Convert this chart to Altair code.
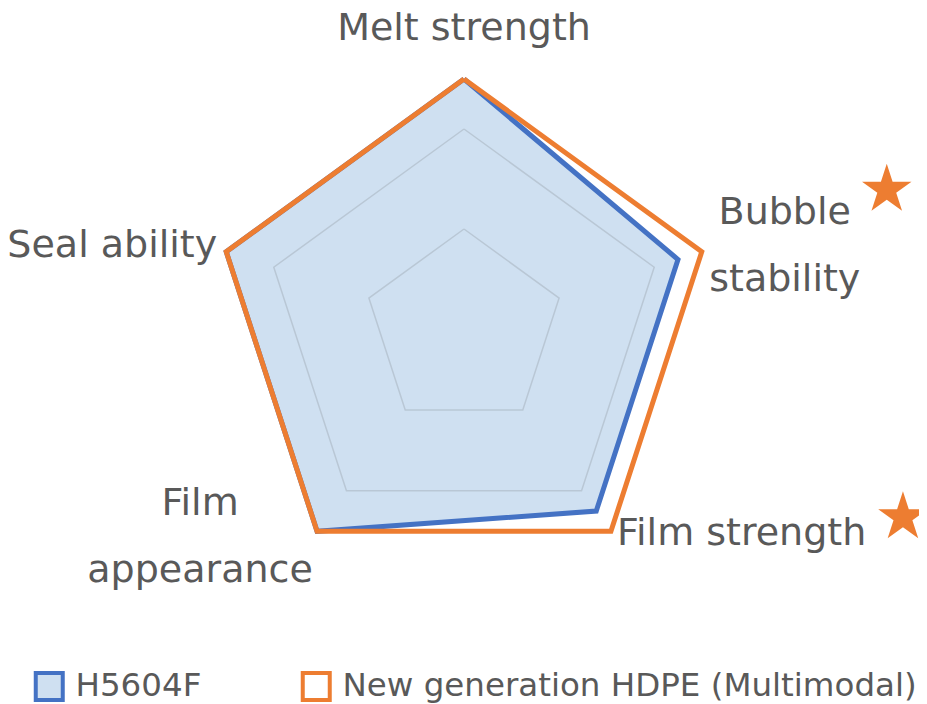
import altair as alt
import pandas as pd

# ---- data ----
categories = ["Melt strength", "Bubble stability", "Film strength", "Film appearance", "Seal ability"]
label_text = ["Melt strength", "Bubble\nstability", "Film strength", "Film\nappearance", "Seal ability"]
series_names = ["H5604F", "New generation HDPE (Multimodal)"]
h5604f_values = [5, 4.5, 4.5, 5, 5]
new_gen_values = [5, 5, 5, 5, 5]
grid_levels = [2, 4]
axis_max = 5
starred = ["Bubble stability", "Film strength"]

FONT = "DejaVu Sans"
TEXT_COLOR = "#595959"
BLUE = "#4472c4"
BLUE_FILL = "#cfe0f1"
ORANGE = "#ed7d31"
GRID = "#b9c7d5"
N = len(categories)

# long tables (closing point repeats the first category)
rows = []
for s, vals in zip(series_names, [h5604f_values, new_gen_values]):
    for i in range(N + 1):
        rows.append({"series": s, "idx": i, "value": vals[i % N]})
series_df = pd.DataFrame(rows)

grid_rows = []
for lv in grid_levels:
    for i in range(N + 1):
        grid_rows.append({"level": lv, "idx": i, "value": lv})
grid_df = pd.DataFrame(grid_rows)

label_df = pd.DataFrame({"category": categories, "label": label_text,
                         "idx": list(range(N)), "value": [axis_max] * N})

x_calc = f"datum.value * sin(datum.idx * 2 * PI / {N})"
y_calc = f"datum.value * cos(datum.idx * 2 * PI / {N})"

x_enc = alt.X("px:Q", axis=None, scale=alt.Scale(domain=[-9.12, 9.10], nice=False, zero=False))
y_enc = alt.Y("py:Q", axis=None, scale=alt.Scale(domain=[-7.50, 6.42], nice=False, zero=False))

legend = alt.Legend(
    orient="none", legendX=25, legendY=662, direction="horizontal", title=None,
    symbolType="square", symbolSize=729, symbolStrokeWidth=4,
    labelFontSize=32.5, labelColor=TEXT_COLOR, labelFont=FONT, labelLimit=800,
    columnPadding=92, labelOffset=10, padding=0,
)

series = alt.Chart(series_df).transform_calculate(px=x_calc, py=y_calc).mark_line(
    strokeWidth=5, strokeJoin="miter"
).encode(
    x=x_enc, y=y_enc,
    order=alt.Order("idx:Q"),
    stroke=alt.Stroke("series:N", scale=alt.Scale(domain=series_names, range=[BLUE, ORANGE]), legend=legend),
    fill=alt.Fill("series:N", scale=alt.Scale(domain=series_names, range=[BLUE_FILL, "transparent"]), legend=legend),
)

grid = alt.Chart(grid_df).transform_calculate(px=x_calc, py=y_calc).mark_line(
    stroke=GRID, strokeWidth=1.5, strokeJoin="miter"
).encode(
    x=x_enc, y=y_enc,
    order=alt.Order("idx:Q"),
    detail="level:N",
)

label_base = alt.Chart(label_df).transform_calculate(px=x_calc, py=y_calc)

label_styles = {
    "Melt strength": dict(align="center", dx=0, dy=-39),
    "Bubble stability": dict(align="center", dx=83, dy=-28),
    "Film strength": dict(align="left", dx=6, dy=14),
    "Film appearance": dict(align="center", dx=-117, dy=-16),
    "Seal ability": dict(align="right", dx=-9, dy=5),
}
label_layers = []
for cat, st in label_styles.items():
    label_layers.append(
        label_base.transform_filter(alt.datum.category == cat).mark_text(
            font=FONT, fontSize=38, color=TEXT_COLOR, baseline="alphabetic",
            lineBreak="\n", lineHeight=67, **st
        ).encode(x=x_enc, y=y_enc, text="label:N")
    )

STAR = ("M0,-1L0.2245,-0.309L0.951,-0.309L0.363,0.118L0.588,0.809L0,0.382"
        "L-0.588,0.809L-0.363,0.118L-0.951,-0.309L-0.2245,-0.309Z")
star_offsets = {"Bubble stability": (185, -62), "Film strength": (292, -14)}
star_layers = []
for cat in starred:
    ox, oy = star_offsets[cat]
    star_layers.append(
        label_base.transform_filter(alt.datum.category == cat).mark_point(
            shape=STAR, filled=True, size=2704, color=ORANGE, opacity=1,
            strokeWidth=0, xOffset=ox, yOffset=oy
        ).encode(x=x_enc, y=y_enc)
    )

chart = alt.layer(series, grid, *label_layers, *star_layers).properties(
    width=911, height=696, padding=0, background="white",
    autosize=alt.AutoSizeParams(type="none")
).configure_view(stroke=None)

chart.save("out.html", embed_options={"renderer": "svg", "actions": False})
